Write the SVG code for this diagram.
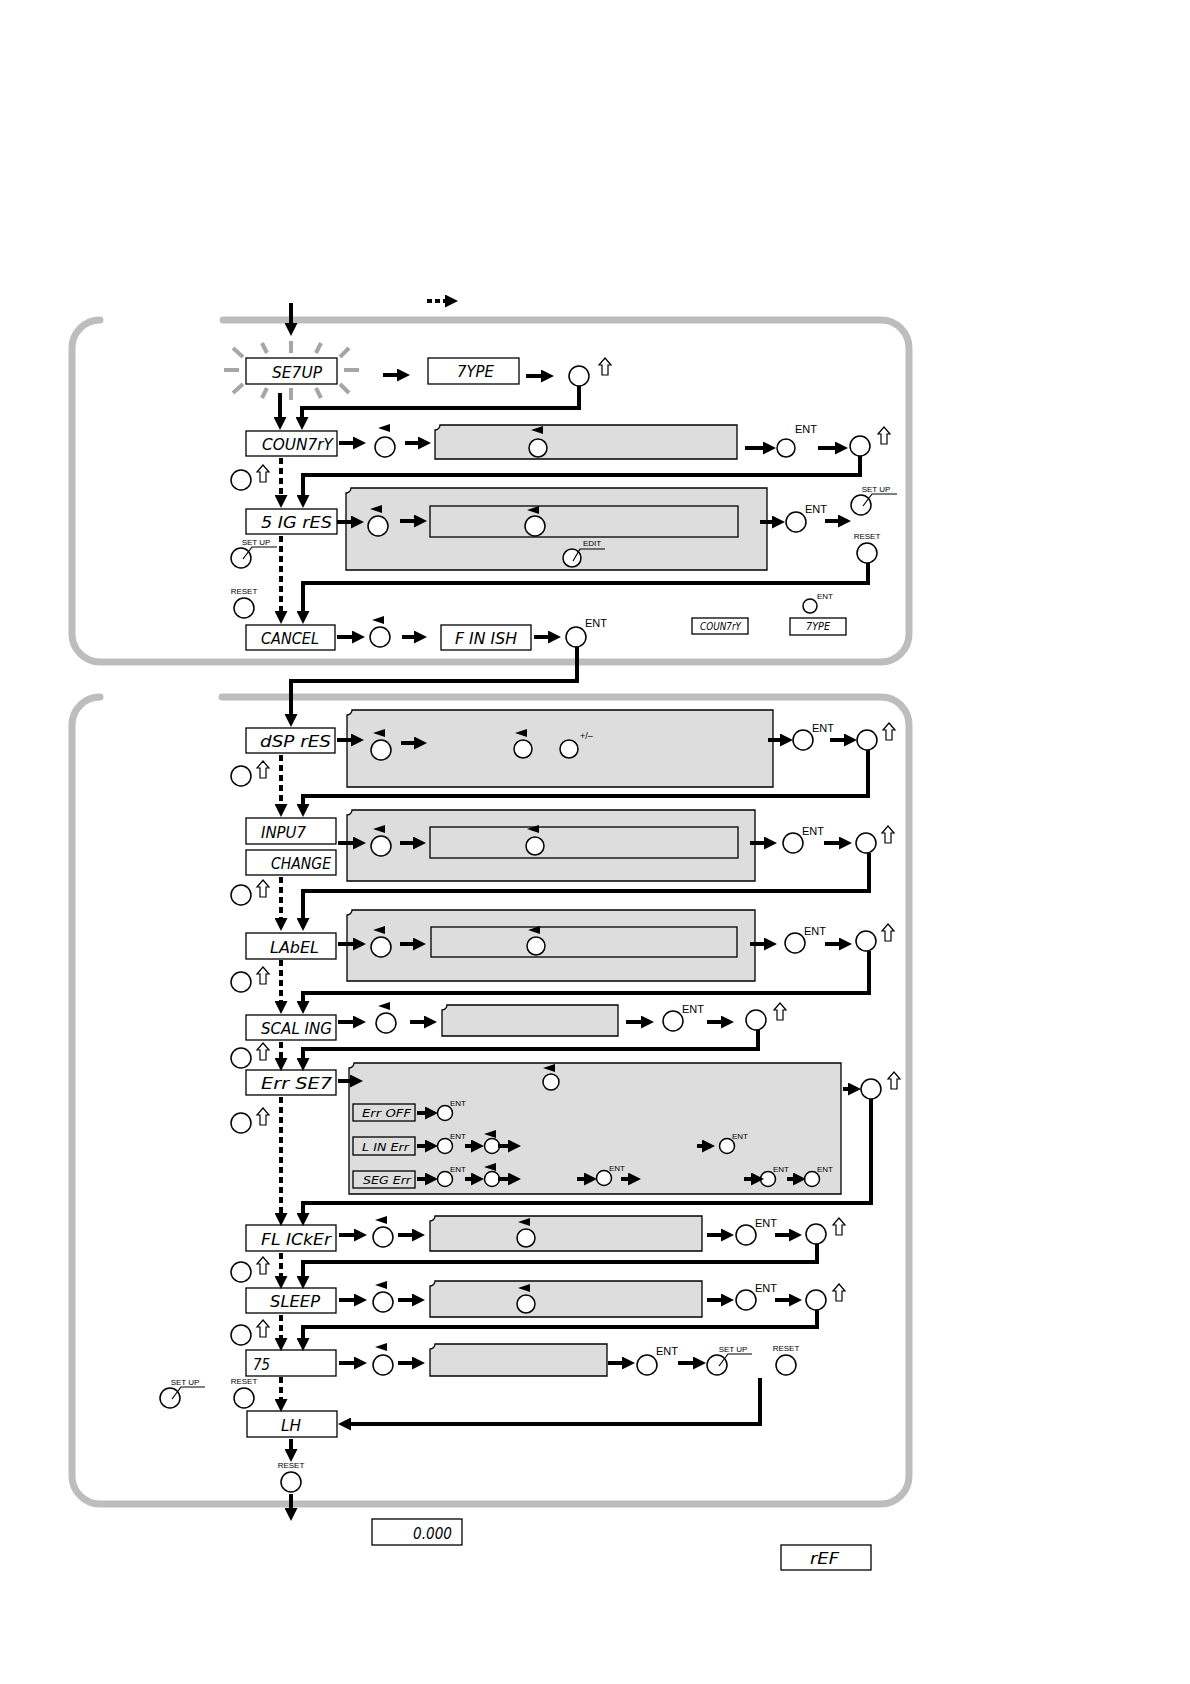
<svg xmlns="http://www.w3.org/2000/svg" width="1190" height="1684" viewBox="0 0 1190 1684">
<style>
.pn{fill:none;stroke:#bdbdbd;stroke-width:7;stroke-linecap:round}
.bx{fill:#fff;stroke:#000;stroke-width:1.3}
.gb{fill:#dddddd;stroke:#000;stroke-width:1.3}
.d{font-family:"DejaVu Sans Condensed","DejaVu Sans",sans-serif;font-style:oblique;font-size:15px;fill:#000}
.ds{font-size:10px}
.b{fill:#fff;stroke:#000;stroke-width:1.5}
.l{font-family:"Liberation Sans",Arial,sans-serif;fill:#000}
.ent{font-size:11px}
.es{font-size:8px}
.sm{font-size:8px;text-anchor:middle}
.a{fill:none;stroke:#000;stroke-width:4;marker-end:url(#ah)}
.dash{stroke-dasharray:6 4}
.ray{stroke:#a6a6a6;stroke-width:4}
.up{fill:#fff;stroke:#000;stroke-width:1.2}
.ln{fill:none;stroke:#000;stroke-width:1.2}
</style>
<defs>
<marker id="ah" markerUnits="userSpaceOnUse" viewBox="0 0 13 13" markerWidth="13" markerHeight="13" refX="6" refY="6.5" orient="auto"><path d="M0,0 L13,6.5 L0,13 Z"/></marker>
<polygon id="up" class="up" points="0,0 6,7 3,7 3,17 -3,17 -3,7 -6,7"/>
<path id="tri" d="M-6,0 L6,-4 L6,4 Z"/>
</defs>
<rect width="1190" height="1684" fill="#fff"/>

<g id="panels">
<path class="pn" d="M223,320 H881 A28,28 0 0 1 909,348 V634 A28,28 0 0 1 881,662 H100 A28,28 0 0 1 72,634 V348 A28,28 0 0 1 100,320"/>
<path class="pn" d="M222,697 H881 A28,28 0 0 1 909,725 V1476 A28,28 0 0 1 881,1504 H100 A28,28 0 0 1 72,1476 V725 A28,28 0 0 1 100,697"/>
</g>

<g id="legend">
<path d="M427,301 H451" fill="none" stroke="#000" stroke-width="4" stroke-dasharray="5 3" marker-end="url(#ah)"/>
</g>

<g id="setup">
<g class="ray">
<line x1="224" y1="370" x2="239" y2="370"/><line x1="344" y1="370" x2="359" y2="370"/>
<line x1="291" y1="341" x2="291" y2="353"/><line x1="291" y1="388" x2="291" y2="400"/>
<line x1="233" y1="348" x2="243" y2="357"/><line x1="262" y1="343" x2="267" y2="353"/>
<line x1="349" y1="348" x2="340" y2="357"/><line x1="321" y1="343" x2="316" y2="353"/>
<line x1="233" y1="393" x2="243" y2="384"/><line x1="262" y1="398" x2="267" y2="388"/>
<line x1="349" y1="393" x2="340" y2="384"/><line x1="321" y1="398" x2="316" y2="388"/>
</g>
<rect class="bx" x="246" y="358" width="91" height="26"/>
<text class="d" x="272" y="378" textLength="50" lengthAdjust="spacingAndGlyphs">SE7UP</text>
</g>

<g id="type">
<rect class="bx" x="428" y="358" width="91" height="26"/>
<text class="d" x="457" y="377" textLength="37" lengthAdjust="spacingAndGlyphs">7YPE</text>
<circle class="b" cx="579" cy="376" r="10"/>
<use href="#up" x="605" y="358"/>
</g>

<g id="country">
<rect class="bx" x="246" y="431" width="91" height="25"/>
<text class="d" x="262" y="450" textLength="71" lengthAdjust="spacingAndGlyphs">COUN7rY</text>
<use href="#tri" x="384" y="428"/><circle class="b" cx="385" cy="447" r="10"/>
<path class="gb" d="M440,425 H737 V459 H435 V430 A5,5 0 0 0 440,425 Z"/>
<use href="#tri" x="537" y="430"/><circle class="b" cx="538" cy="448" r="9"/>
<circle class="b" cx="786" cy="448" r="9"/><text class="l ent" x="795" y="433">ENT</text>
<circle class="b" cx="860" cy="446" r="10"/><use href="#up" x="884" y="427"/>
<circle class="b" cx="241" cy="480" r="10"/><use href="#up" x="263" y="465"/>
</g>

<g id="sigres">
<rect class="bx" x="246" y="509" width="91" height="25"/>
<text class="d" x="261" y="528" textLength="71" lengthAdjust="spacingAndGlyphs">5 IG rES</text>
<path class="gb" d="M351,488 H767 V570 H346 V493 A5,5 0 0 0 351,488 Z"/>
<use href="#tri" x="376" y="509"/><circle class="b" cx="378" cy="526" r="10"/>
<rect class="gb" x="430" y="506" width="308" height="31"/>
<use href="#tri" x="533" y="510"/><circle class="b" cx="535" cy="526" r="10"/>
<circle class="b" cx="572" cy="558" r="9"/><path class="ln" d="M573,561 L580,549 H605"/><text class="l sm" x="592" y="546">EDIT</text>
<circle class="b" cx="796" cy="522" r="10"/><text class="l ent" x="805" y="513">ENT</text>
<circle class="b" cx="861" cy="505" r="10"/><path class="ln" d="M863,506 L872,494 H897"/><text class="l sm" x="876" y="492">SET UP</text>
<text class="l sm" x="867" y="539">RESET</text><circle class="b" cx="867" cy="553" r="10"/>
<circle class="b" cx="241" cy="558" r="10"/><path class="ln" d="M243,559 L252,547 H277"/><text class="l sm" x="256" y="545">SET UP</text>
<text class="l sm" x="244" y="594">RESET</text><circle class="b" cx="244" cy="608" r="10"/>
</g>

<g id="cancel">
<rect class="bx" x="246" y="625" width="89" height="25"/>
<text class="d" x="261" y="644" textLength="58" lengthAdjust="spacingAndGlyphs">CANCEL</text>
<use href="#tri" x="378" y="620"/><circle class="b" cx="380" cy="637" r="10"/>
<rect class="bx" x="441" y="625" width="90" height="25"/>
<text class="d" x="455" y="644" textLength="62" lengthAdjust="spacingAndGlyphs">F IN ISH</text>
<circle class="b" cx="576" cy="637" r="10"/><text class="l ent" x="585" y="627">ENT</text>
<rect class="bx" x="692" y="618" width="56" height="16"/>
<text class="d ds" x="700" y="630" textLength="41" lengthAdjust="spacingAndGlyphs">COUN7rY</text>
<rect class="bx" x="790" y="618" width="56" height="17"/>
<text class="d ds" x="806" y="630" textLength="24" lengthAdjust="spacingAndGlyphs">7YPE</text>
<circle class="b" cx="810" cy="606" r="7"/><text class="l es" x="817" y="599" font-size="10">ENT</text>
</g>

<g id="dspres">
<rect class="bx" x="246" y="728" width="89" height="25"/>
<text class="d" x="260" y="747" textLength="71" lengthAdjust="spacingAndGlyphs">dSP rES</text>
<path class="gb" d="M352,710 H773 V787 H347 V715 A5,5 0 0 0 352,710 Z"/>
<use href="#tri" x="379" y="733"/><circle class="b" cx="381" cy="750" r="10"/>
<use href="#tri" x="521" y="733"/><circle class="b" cx="523" cy="749" r="9"/>
<circle class="b" cx="569" cy="749" r="9"/><text class="l" x="580" y="739" font-size="9">+/–</text>
<circle class="b" cx="803" cy="740" r="10"/><text class="l ent" x="812" y="732">ENT</text>
<circle class="b" cx="867" cy="740" r="10"/><use href="#up" x="889" y="723"/>
<circle class="b" cx="241" cy="776" r="10"/><use href="#up" x="263" y="761"/>
</g>

<g id="input">
<rect class="bx" x="246" y="818" width="90" height="26"/>
<text class="d" x="261" y="838" textLength="45" lengthAdjust="spacingAndGlyphs">INPU7</text>
<rect class="bx" x="246" y="850" width="90" height="25"/>
<text class="d" x="271" y="869" textLength="60" lengthAdjust="spacingAndGlyphs">CHANGE</text>
<path class="gb" d="M352,810 H755 V881 H347 V815 A5,5 0 0 0 352,810 Z"/>
<use href="#tri" x="379" y="829"/><circle class="b" cx="381" cy="846" r="10"/>
<rect class="gb" x="430" y="827" width="308" height="31"/>
<use href="#tri" x="533" y="829"/><circle class="b" cx="535" cy="846" r="9"/>
<circle class="b" cx="793" cy="843" r="10"/><text class="l ent" x="802" y="835">ENT</text>
<circle class="b" cx="866" cy="843" r="10"/><use href="#up" x="888" y="826"/>
<circle class="b" cx="241" cy="895" r="10"/><use href="#up" x="263" y="880"/>
</g>

<g id="label">
<rect class="bx" x="246" y="933" width="90" height="26"/>
<text class="d" x="270" y="953" textLength="49" lengthAdjust="spacingAndGlyphs">LAbEL</text>
<path class="gb" d="M352,910 H755 V981 H347 V915 A5,5 0 0 0 352,910 Z"/>
<use href="#tri" x="379" y="930"/><circle class="b" cx="381" cy="947" r="10"/>
<rect class="gb" x="431" y="927" width="306" height="30"/>
<use href="#tri" x="534" y="930"/><circle class="b" cx="536" cy="946" r="9"/>
<circle class="b" cx="795" cy="943" r="10"/><text class="l ent" x="804" y="935">ENT</text>
<circle class="b" cx="866" cy="941" r="10"/><use href="#up" x="888" y="924"/>
<circle class="b" cx="241" cy="982" r="10"/><use href="#up" x="263" y="967"/>
</g>

<g id="scaling">
<rect class="bx" x="246" y="1015" width="90" height="25"/>
<text class="d" x="261" y="1034" textLength="71" lengthAdjust="spacingAndGlyphs">SCAL ING</text>
<use href="#tri" x="384" y="1006"/><circle class="b" cx="386" cy="1023" r="10"/>
<path class="gb" d="M447,1005 H618 V1036 H442 V1010 A5,5 0 0 0 447,1005 Z"/>
<circle class="b" cx="673" cy="1021" r="10"/><text class="l ent" x="682" y="1013">ENT</text>
<circle class="b" cx="756" cy="1020" r="10"/><use href="#up" x="780" y="1003"/>
<circle class="b" cx="241" cy="1058" r="10"/><use href="#up" x="263" y="1043"/>
</g>

<g id="errset">
<rect class="bx" x="246" y="1070" width="90" height="25"/>
<text class="d" x="261" y="1089" textLength="71" lengthAdjust="spacingAndGlyphs">Err SE7</text>
<path class="gb" d="M354,1063 H841 V1194 H349 V1068 A5,5 0 0 0 354,1063 Z"/>
<use href="#tri" x="549" y="1068"/><circle class="b" cx="551" cy="1082" r="8"/>
<circle class="b" cx="871" cy="1089" r="10"/><use href="#up" x="894" y="1072"/>
<circle class="b" cx="241" cy="1123" r="10"/><use href="#up" x="263" y="1108"/>
<rect class="gb" x="353" y="1104" width="62" height="17" stroke-width="1.6"/>
<text class="d ds" x="362" y="1117" textLength="49" lengthAdjust="spacingAndGlyphs">Err OFF</text>
<circle class="b" cx="445" cy="1113" r="7.5"/><text class="l es" x="450" y="1106">ENT</text>
<rect class="gb" x="353" y="1137" width="62" height="18" stroke-width="1.6"/>
<text class="d ds" x="362" y="1151" textLength="47" lengthAdjust="spacingAndGlyphs">L IN Err</text>
<circle class="b" cx="445" cy="1146" r="7.5"/><text class="l es" x="450" y="1139">ENT</text>
<use href="#tri" x="490" y="1134"/><circle class="b" cx="492" cy="1146" r="7.5"/>
<circle class="b" cx="727" cy="1146" r="7.5"/><text class="l es" x="732" y="1139">ENT</text>
<rect class="gb" x="353" y="1171" width="62" height="17" stroke-width="1.6"/>
<text class="d ds" x="363" y="1184" textLength="48" lengthAdjust="spacingAndGlyphs">SEG Err</text>
<circle class="b" cx="445" cy="1179" r="7.5"/><text class="l es" x="450" y="1172">ENT</text>
<use href="#tri" x="490" y="1167"/><circle class="b" cx="492" cy="1179" r="7.5"/>
<circle class="b" cx="604" cy="1178" r="7.5"/><text class="l es" x="609" y="1171">ENT</text>
<circle class="b" cx="768" cy="1179" r="7.5"/><text class="l es" x="773" y="1172">ENT</text>
<circle class="b" cx="812" cy="1179" r="7.5"/><text class="l es" x="817" y="1172">ENT</text>
</g>

<g id="flicker">
<rect class="bx" x="246" y="1225" width="90" height="26"/>
<text class="d" x="261" y="1245" textLength="70" lengthAdjust="spacingAndGlyphs">FL ICkEr</text>
<use href="#tri" x="381" y="1220"/><circle class="b" cx="383" cy="1237" r="10"/>
<path class="gb" d="M435,1216 H702 V1251 H430 V1221 A5,5 0 0 0 435,1216 Z"/>
<use href="#tri" x="524" y="1222"/><circle class="b" cx="526" cy="1238" r="9"/>
<circle class="b" cx="746" cy="1235" r="10"/><text class="l ent" x="755" y="1227">ENT</text>
<circle class="b" cx="816" cy="1234" r="10"/><use href="#up" x="839" y="1218"/>
<circle class="b" cx="241" cy="1272" r="10"/><use href="#up" x="263" y="1257"/>
</g>

<g id="sleep">
<rect class="bx" x="246" y="1288" width="90" height="25"/>
<text class="d" x="270" y="1307" textLength="50" lengthAdjust="spacingAndGlyphs">SLEEP</text>
<use href="#tri" x="381" y="1285"/><circle class="b" cx="383" cy="1302" r="10"/>
<path class="gb" d="M435,1281 H702 V1317 H430 V1286 A5,5 0 0 0 435,1281 Z"/>
<use href="#tri" x="524" y="1288"/><circle class="b" cx="526" cy="1304" r="9"/>
<circle class="b" cx="746" cy="1300" r="10"/><text class="l ent" x="755" y="1292">ENT</text>
<circle class="b" cx="816" cy="1300" r="10"/><use href="#up" x="839" y="1284"/>
<circle class="b" cx="241" cy="1335" r="10"/><use href="#up" x="263" y="1320"/>
</g>

<g id="ts">
<rect class="bx" x="246" y="1350" width="90" height="26"/>
<text class="d" x="253" y="1370" textLength="17" lengthAdjust="spacingAndGlyphs">75</text>
<use href="#tri" x="381" y="1347"/><circle class="b" cx="383" cy="1365" r="10"/>
<path class="gb" d="M435,1344 H607 V1376 H430 V1349 A5,5 0 0 0 435,1344 Z"/>
<circle class="b" cx="647" cy="1365" r="10"/><text class="l ent" x="656" y="1355">ENT</text>
<circle class="b" cx="717" cy="1365" r="10"/><path class="ln" d="M719,1366 L728,1354 H752"/><text class="l sm" x="733" y="1352">SET UP</text>
<text class="l sm" x="786" y="1351">RESET</text><circle class="b" cx="786" cy="1365" r="10"/>
<circle class="b" cx="170" cy="1398" r="10"/><path class="ln" d="M172,1399 L181,1387 H205"/><text class="l sm" x="185" y="1385">SET UP</text>
<text class="l sm" x="244" y="1384">RESET</text><circle class="b" cx="244" cy="1398" r="10"/>
</g>

<g id="lh">
<rect class="bx" x="247" y="1411" width="90" height="26"/>
<text class="d" x="281" y="1431" textLength="20" lengthAdjust="spacingAndGlyphs">LH</text>
<text class="l sm" x="291" y="1468">RESET</text><circle class="b" cx="291" cy="1482" r="10"/>
</g>

<g id="zero">
<rect class="bx" x="372" y="1519" width="90" height="26"/>
<text class="d" x="413" y="1539" textLength="39" lengthAdjust="spacingAndGlyphs">0.000</text>
</g>
<g id="ref">
<rect class="bx" x="781" y="1545" width="90" height="25"/>
<text class="d" x="810" y="1564" textLength="29" lengthAdjust="spacingAndGlyphs">rEF</text>
</g>

<g id="connectors">
<path class="a" d="M291,303 V329"/>
<path class="a" d="M383,375 H403"/>
<path class="a" d="M526,376 H547"/>
<path class="a" d="M579,386 V408 H302 V423"/>
<path class="a" d="M280,393 V423"/>
<path class="a" d="M339,443 H359"/>
<path class="a" d="M405,443 H424"/>
<path class="a" d="M745,448 H769"/>
<path class="a" d="M818,448 H841"/>
<path class="a" d="M860,456 V475 H303 V501"/>
<path class="a dash" d="M281,458 V501"/>
<path class="a" d="M337,522 H357"/>
<path class="a" d="M400,521 H420"/>
<path class="a" d="M760,522 H778"/>
<path class="a" d="M825,521 H844"/>
<path class="a" d="M868,563 V583 H303 V617"/>
<path class="a dash" d="M281,536 V617"/>
<path class="a" d="M337,637 H358"/>
<path class="a" d="M402,637 H420"/>
<path class="a" d="M534,637 H554"/>
<path class="a" d="M577,647 V681 H291 V720"/>
<path class="a" d="M337,740 H357"/>
<path class="a" d="M401,743 H420"/>
<path class="a" d="M768,740 H786"/>
<path class="a" d="M830,740 H850"/>
<path class="a" d="M868,750 V796 H303 V810"/>
<path class="a dash" d="M281,755 V810"/>
<path class="a" d="M338,843 H359"/>
<path class="a" d="M400,843 H419"/>
<path class="a" d="M750,843 H770"/>
<path class="a" d="M824,843 H845"/>
<path class="a" d="M869,853 V891 H303 V924"/>
<path class="a dash" d="M281,877 V924"/>
<path class="a" d="M338,944 H359"/>
<path class="a" d="M400,944 H419"/>
<path class="a" d="M750,944 H770"/>
<path class="a" d="M825,944 H845"/>
<path class="a" d="M869,951 V993 H303 V1007"/>
<path class="a dash" d="M281,960 V1007"/>
<path class="a" d="M338,1022 H359"/>
<path class="a" d="M410,1022 H430"/>
<path class="a" d="M626,1022 H647"/>
<path class="a" d="M707,1022 H727"/>
<path class="a" d="M758,1030 V1049 H303 V1064"/>
<path class="a dash" d="M281,1042 V1064"/>
<path class="a" d="M338,1081 H356"/>
<path class="a" d="M843,1089 H854"/>
<path class="a" d="M417,1113 H431"/>
<path class="a" d="M417,1146 H431"/>
<path class="a" d="M465,1146 H477"/>
<path class="a" d="M498,1146 H514"/>
<path class="a" d="M697,1146 H708"/>
<path class="a" d="M417,1179 H431"/>
<path class="a" d="M465,1179 H477"/>
<path class="a" d="M498,1179 H514"/>
<path class="a" d="M577,1179 H590"/>
<path class="a" d="M621,1179 H634"/>
<path class="a" d="M744,1179 H757"/>
<path class="a" d="M787,1179 H799"/>
<path class="a" d="M871,1099 V1203 H303 V1219"/>
<path class="a dash" d="M281,1097 V1219"/>
<path class="a" d="M339,1235 H360"/>
<path class="a" d="M398,1235 H418"/>
<path class="a" d="M707,1235 H727"/>
<path class="a" d="M775,1235 H795"/>
<path class="a" d="M817,1244 V1262 H303 V1282"/>
<path class="a dash" d="M281,1253 V1282"/>
<path class="a" d="M339,1300 H360"/>
<path class="a" d="M398,1300 H418"/>
<path class="a" d="M707,1300 H727"/>
<path class="a" d="M775,1300 H795"/>
<path class="a" d="M817,1310 V1327 H303 V1344"/>
<path class="a dash" d="M281,1315 V1344"/>
<path class="a" d="M339,1363 H360"/>
<path class="a" d="M398,1363 H418"/>
<path class="a" d="M608,1363 H628"/>
<path class="a" d="M678,1363 H699"/>
<path class="a" d="M760,1378 V1424 H345"/>
<path class="a dash" d="M281,1377 V1405"/>
<path class="a" d="M291,1439 V1455"/>
<path class="a" d="M291,1494 V1514"/>
</g>
</svg>
